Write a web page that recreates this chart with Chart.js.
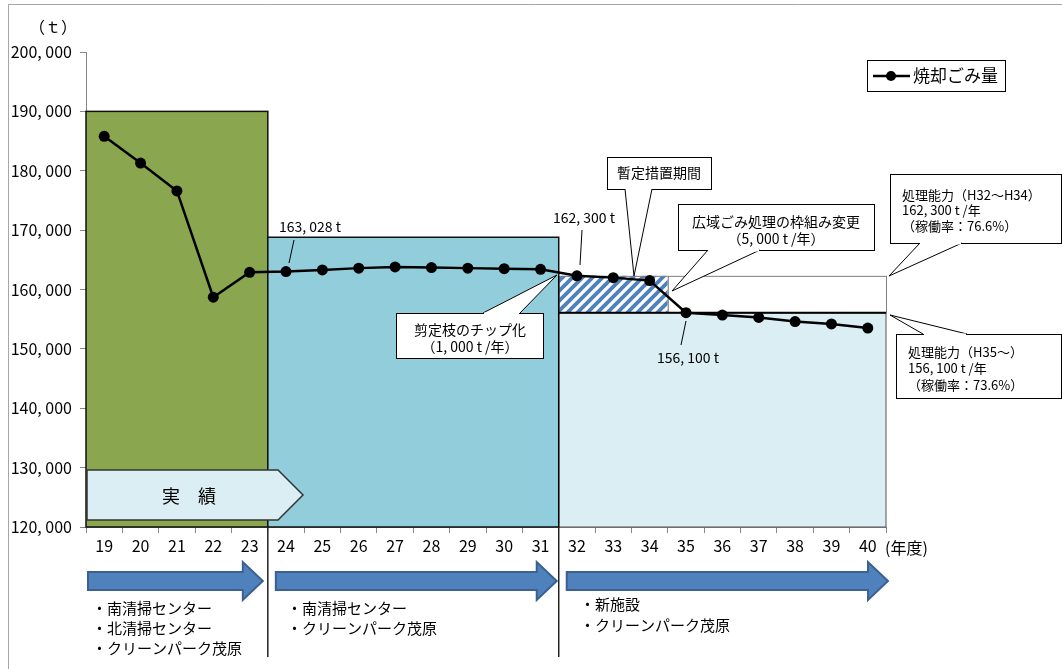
<!DOCTYPE html>
<html>
<head>
<meta charset="utf-8">
<script src="https://cdn.jsdelivr.net/npm/chart.js@4/dist/chart.umd.min.js"></script>
<style>
  html, body { margin: 0; padding: 0; background: #fff; }
</style>
</head>
<body>
<canvas id="chart" width="1062" height="669"></canvas>
<script>
// fiscal years (Heisei)
const years = ['19', '20', '21', '22', '23', '24', '25', '26', '27', '28', '29',
  '30', '31', '32', '33', '34', '35', '36', '37', '38', '39', '40'];
// incinerated waste (t)
const wasteAmount = [185800, 181300, 176600, 158700, 162900, 163028, 163300, 163600,
  163800, 163700, 163600, 163500, 163400, 162300, 162000, 161500, 156100, 155700,
  155300, 154600, 154200, 153500];
const yMin = 120000, yMax = 200000, yStep = 10000;

// periods: first / last year index and the height of the background box
const periodFirst = [0, 5, 13];
const periodLast = [4, 12, 21];
const periodTop = [190000, 168800, 156100];
const periodColors = ['#8aa64e', '#92cddc', '#daeef3'];

// processing capacity
const capInterim = 162300;   // H32-H34
const capNew = 156100;       // H35-
const interimFirst = 13, interimLast = 15;

const FONT = '"Noto Sans CJK JP", "Noto Sans", sans-serif';

function hatchPattern(ctx) {
  const c = document.createElement('canvas');
  c.width = 10; c.height = 10;
  const p = c.getContext('2d');
  p.fillStyle = '#fff';
  p.fillRect(0, 0, 10, 10);
  p.strokeStyle = '#4f81bd';
  p.lineWidth = 3.8;
  p.beginPath();
  p.moveTo(-2, 12); p.lineTo(12, -2);
  p.moveTo(-2, 2); p.lineTo(2, -2);
  p.moveTo(8, 12); p.lineTo(12, 8);
  p.stroke();
  return ctx.createPattern(c, 'repeat');
}

function callout(ctx, x, y, w, h, b1, b2, tip, lines, size, align) {
  ctx.save();
  ctx.fillStyle = '#fff';
  ctx.strokeStyle = '#000';
  ctx.lineWidth = 1;
  ctx.fillRect(x, y, w, h);
  ctx.strokeRect(x + 0.5, y + 0.5, w, h);
  ctx.beginPath();
  ctx.moveTo(b1[0], b1[1]); ctx.lineTo(tip[0], tip[1]); ctx.lineTo(b2[0], b2[1]);
  ctx.fill();
  ctx.stroke();
  // open the base of the pointer
  ctx.strokeStyle = '#fff';
  ctx.lineWidth = 2;
  ctx.beginPath();
  ctx.moveTo(b1[0] + 1, b1[1] + 0.5); ctx.lineTo(b2[0] - 1, b2[1] + 0.5);
  ctx.stroke();
  ctx.fillStyle = '#000';
  ctx.font = size + 'px ' + FONT;
  ctx.textBaseline = 'middle';
  ctx.textAlign = align || 'center';
  lines.forEach(function (l) { ctx.fillText(l[0], l[1], l[2]); });
  ctx.restore();
}

function arrow(ctx, x1, x2, yc) {
  ctx.save();
  ctx.fillStyle = '#4f81bd';
  ctx.strokeStyle = '#3a6190';
  ctx.lineWidth = 2;
  ctx.beginPath();
  ctx.moveTo(x1, yc - 9);
  ctx.lineTo(x2 - 20, yc - 9);
  ctx.lineTo(x2 - 20, yc - 19);
  ctx.lineTo(x2, yc);
  ctx.lineTo(x2 - 20, yc + 19);
  ctx.lineTo(x2 - 20, yc + 9);
  ctx.lineTo(x1, yc + 9);
  ctx.closePath();
  ctx.fill();
  ctx.stroke();
  ctx.restore();
}

const backgroundPlugin = {
  id: 'periods',
  beforeDatasetsDraw(chart) {
    const ctx = chart.ctx;
    const x = chart.scales.x, y = chart.scales.y;
    const half = (x.getPixelForValue(1) - x.getPixelForValue(0)) / 2;
    const left = i => x.getPixelForValue(i) - half;
    const right = i => x.getPixelForValue(i) + half;
    const bottom = y.getPixelForValue(yMin);
    ctx.save();
    for (let i = 0; i < periodFirst.length; i++) {
      const x0 = left(periodFirst[i]), x1 = right(periodLast[i]);
      const t = y.getPixelForValue(periodTop[i]);
      ctx.fillStyle = periodColors[i];
      ctx.fillRect(x0, t, x1 - x0, bottom - t);
      ctx.strokeStyle = i === 2 ? '#555' : '#111';
      ctx.lineWidth = i === 2 ? 1 : 1.5;
      ctx.strokeRect(x0, t, x1 - x0, bottom - t);
    }
    // interim capacity (hatched) and remaining capacity
    const top = y.getPixelForValue(capInterim), base = y.getPixelForValue(capNew);
    const hx0 = left(interimFirst), hx1 = right(interimLast);
    ctx.fillStyle = hatchPattern(ctx);
    ctx.fillRect(hx0, top, hx1 - hx0, base - top);
    ctx.strokeStyle = '#7f7f7f';
    ctx.lineWidth = 1;
    ctx.strokeRect(hx0 + 0.5, top + 0.5, hx1 - hx0, base - top);
    const ex = right(periodLast[2]);
    ctx.fillStyle = '#fff';
    ctx.fillRect(hx1, top, ex - hx1, base - top);
    ctx.strokeRect(hx1 + 0.5, top + 0.5, ex - hx1, base - top);
    // new capacity line
    ctx.strokeStyle = '#000';
    ctx.lineWidth = 2;
    ctx.beginPath();
    ctx.moveTo(hx0, base); ctx.lineTo(ex, base);
    ctx.stroke();
    // left edge of the new period
    ctx.lineWidth = 1.5;
    ctx.beginPath();
    ctx.moveTo(hx0, top); ctx.lineTo(hx0, bottom);
    ctx.stroke();
    ctx.restore();
  },
  afterDraw(chart) {
    const ctx = chart.ctx;
    const x = chart.scales.x, y = chart.scales.y;
    const half = (x.getPixelForValue(1) - x.getPixelForValue(0)) / 2;
    const left = i => x.getPixelForValue(i) - half;
    const right = i => x.getPixelForValue(i) + half;
    const bottom = y.getPixelForValue(yMin);
    ctx.save();

    // outer frame
    ctx.strokeStyle = '#a6a6a6';
    ctx.lineWidth = 1;
    ctx.beginPath();
    ctx.moveTo(8.5, 669); ctx.lineTo(8.5, 4.5); ctx.lineTo(1062, 4.5);
    ctx.stroke();

    // unit labels
    ctx.fillStyle = '#000';
    ctx.font = '16px ' + FONT;
    ctx.textBaseline = 'middle';
    ctx.textAlign = 'center';
    ctx.fillText('（ｔ）', 53, 27);
    ctx.textAlign = 'left';
    ctx.fillText('(年度)', right(21) - 1, 548);

    // period separators below the axis
    ctx.strokeStyle = '#222';
    ctx.lineWidth = 1.5;
    [periodFirst[1], periodFirst[2]].forEach(function (i) {
      const px = left(i);
      ctx.beginPath();
      ctx.moveTo(px, bottom); ctx.lineTo(px, 657);
      ctx.stroke();
    });

    // facility arrows
    arrow(ctx, left(periodFirst[0]) + 2, right(periodLast[0]) - 5, 581);
    arrow(ctx, left(periodFirst[1]) + 8, right(periodLast[1]) - 2, 581);
    arrow(ctx, left(periodFirst[2]) + 8, right(periodLast[2]) + 2, 581);

    ctx.fillStyle = '#000';
    ctx.font = '15px ' + FONT;
    ctx.textAlign = 'left';
    ['・南清掃センター', '・北清掃センター', '・クリーンパーク茂原'].forEach(function (t, k) {
      ctx.fillText(t, 92, 608 + k * 20);
    });
    ['・南清掃センター', '・クリーンパーク茂原'].forEach(function (t, k) {
      ctx.fillText(t, 287, 608 + k * 20);
    });
    ['・新施設', '・クリーンパーク茂原'].forEach(function (t, k) {
      ctx.fillText(t, 580, 604 + k * 21);
    });

    // 実績 tag
    ctx.fillStyle = '#daeef3';
    ctx.strokeStyle = '#333';
    ctx.lineWidth = 1.5;
    ctx.beginPath();
    ctx.moveTo(87, 470); ctx.lineTo(278, 470); ctx.lineTo(303, 495);
    ctx.lineTo(278, 520); ctx.lineTo(87, 520); ctx.closePath();
    ctx.fill(); ctx.stroke();
    ctx.fillStyle = '#000';
    ctx.font = '18px ' + FONT;
    ctx.textAlign = 'center';
    ctx.fillText('実　績', 189, 496);

    // value labels with leader lines
    ctx.font = '14px ' + FONT;
    ctx.fillText('163, 028 t', 310, 227);
    ctx.fillText('162, 300 t', 584, 218);
    ctx.fillText('156, 100 t', 688, 358);
    ctx.strokeStyle = '#000';
    ctx.lineWidth = 1;
    ctx.beginPath();
    ctx.moveTo(294, 240); ctx.lineTo(289, 263);
    ctx.moveTo(582, 230); ctx.lineTo(580, 265);
    ctx.moveTo(686, 321); ctx.lineTo(681, 345);
    ctx.stroke();

    // callouts
    callout(ctx, 396, 313, 147, 45, [483, 313], [520, 313], [557, 275],
      [['剪定枝のチップ化', 470, 330], ['（1, 000 t /年）', 470, 347]], 14);
    callout(ctx, 607, 157, 104, 32, [625, 189], [652, 189], [634, 276],
      [['暫定措置期間', 659, 173]], 14);
    callout(ctx, 678, 204, 196, 46, [708, 250], [760, 250], [672, 291],
      [['広域ごみ処理の枠組み変更', 776, 222], ['（5, 000 t /年）', 776, 239]], 14);
    callout(ctx, 890, 174, 171, 69, [920, 243], [962, 243], [889, 276],
      [['処理能力（H32～H34）', 902, 195], ['162, 300 t /年', 902, 210], ['（稼働率：76.6%）', 902, 226]], 13, 'left');
    callout(ctx, 896, 334, 165, 64, [923, 334], [967, 334], [890, 315],
      [['処理能力（H35～）', 908, 352], ['156, 100 t /年', 908, 368], ['（稼働率：73.6%）', 908, 385]], 13, 'left');

    // legend
    ctx.fillStyle = '#fff';
    ctx.fillRect(867, 60, 139, 32);
    ctx.strokeStyle = '#000';
    ctx.lineWidth = 1;
    ctx.strokeRect(867.5, 60.5, 138, 31);
    ctx.lineWidth = 2.5;
    ctx.beginPath();
    ctx.moveTo(873, 76); ctx.lineTo(910, 76);
    ctx.stroke();
    ctx.fillStyle = '#000';
    ctx.beginPath();
    ctx.arc(891, 76, 5, 0, Math.PI * 2);
    ctx.fill();
    ctx.font = '17px ' + FONT;
    ctx.textAlign = 'left';
    ctx.fillText('焼却ごみ量', 913, 76);

    ctx.restore();
  }
};

new Chart(document.getElementById('chart'), {
  type: 'line',
  data: {
    labels: years,
    datasets: [{
      label: '焼却ごみ量',
      data: wasteAmount,
      borderColor: '#000',
      backgroundColor: '#000',
      borderWidth: 2.5,
      pointRadius: 5.5,
      pointBackgroundColor: '#000',
      pointBorderWidth: 0,
      tension: 0
    }]
  },
  options: {
    responsive: false,
    animation: false,
    layout: { padding: { top: 52, right: 176, left: 0, bottom: 0 } },
    plugins: {
      legend: { display: false },
      tooltip: { enabled: false }
    },
    scales: {
      x: {
        offset: true,
        grid: { offset: true, drawOnChartArea: false, color: '#868686', tickLength: 6 },
        border: { color: '#868686' },
        ticks: { color: '#000', font: { family: FONT, size: 16 }, padding: 3, maxRotation: 0 },
        afterFit: function (s) { s.height = 142; }
      },
      y: {
        min: yMin,
        max: yMax,
        grid: { drawOnChartArea: false, color: '#868686', tickLength: 6 },
        border: { color: '#868686' },
        ticks: {
          stepSize: yStep,
          color: '#000',
          padding: 8,
          font: { family: FONT, size: 16 },
          callback: v => v.toLocaleString('en-US').replace(',', ', ')
        },
        afterFit: function (s) { s.width = 86; }
      }
    }
  },
  plugins: [backgroundPlugin]
});
</script>
</body>
</html>
